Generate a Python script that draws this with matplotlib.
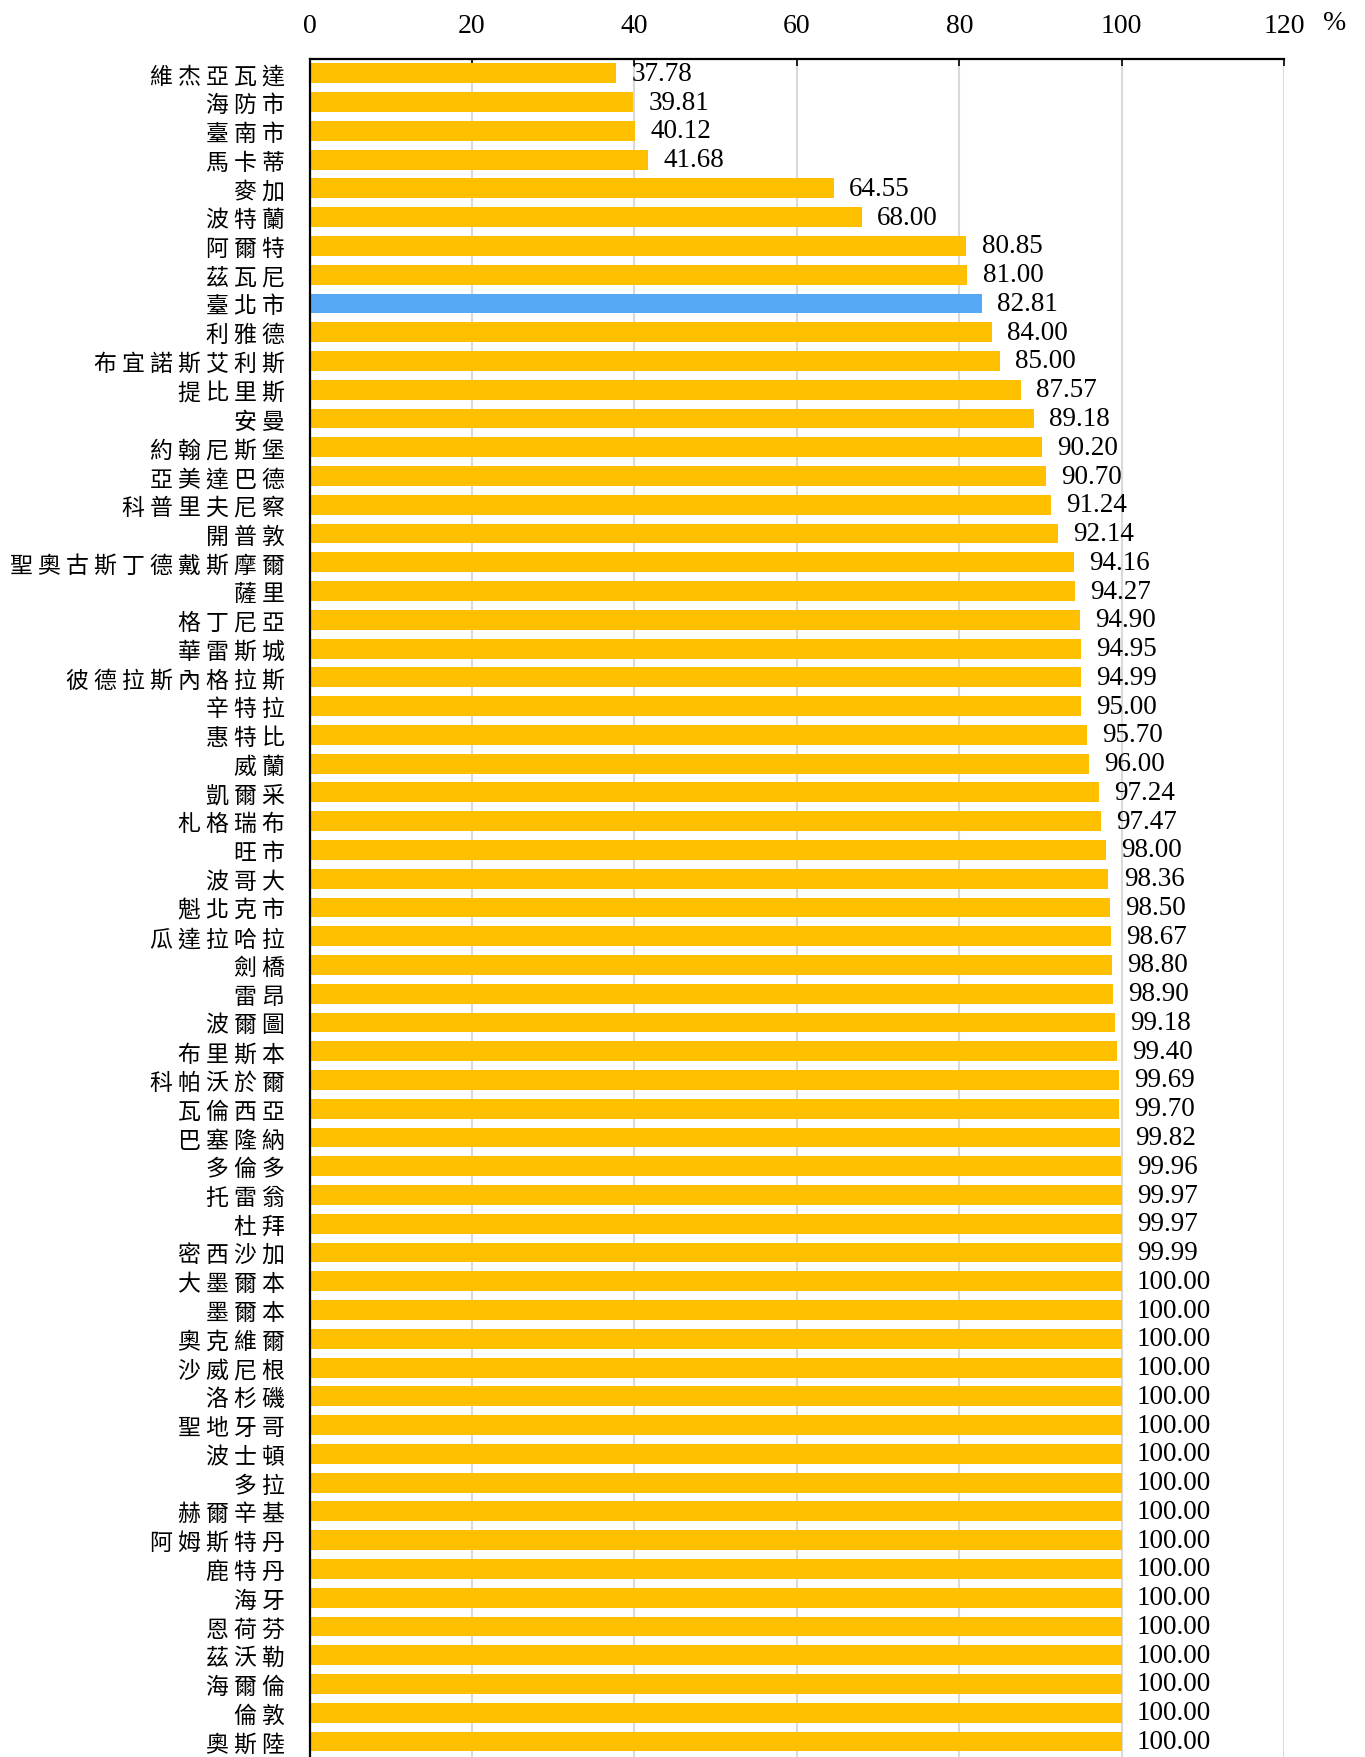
import matplotlib
matplotlib.use("Agg")
import matplotlib.pyplot as plt

cities = [
    "維杰亞瓦達", "海防市", "臺南市", "馬卡蒂", "麥加", "波特蘭", "阿爾特", "茲瓦尼",
    "臺北市", "利雅德", "布宜諾斯艾利斯", "提比里斯", "安曼", "約翰尼斯堡", "亞美達巴德",
    "科普里夫尼察", "開普敦", "聖奧古斯丁德戴斯摩爾", "薩里", "格丁尼亞", "華雷斯城",
    "彼德拉斯內格拉斯", "辛特拉", "惠特比", "威蘭", "凱爾采", "札格瑞布", "旺市", "波哥大",
    "魁北克市", "瓜達拉哈拉", "劍橋", "雷昂", "波爾圖", "布里斯本", "科帕沃於爾", "瓦倫西亞",
    "巴塞隆納", "多倫多", "托雷翁", "杜拜", "密西沙加", "大墨爾本", "墨爾本", "奧克維爾",
    "沙威尼根", "洛杉磯", "聖地牙哥", "波士頓", "多拉", "赫爾辛基", "阿姆斯特丹", "鹿特丹",
    "海牙", "恩荷芬", "茲沃勒", "海爾倫", "倫敦", "奧斯陸",
]
values = [
    37.78, 39.81, 40.12, 41.68, 64.55, 68.00, 80.85, 81.00,
    82.81, 84.00, 85.00, 87.57, 89.18, 90.20, 90.70,
    91.24, 92.14, 94.16, 94.27, 94.90, 94.95,
    94.99, 95.00, 95.70, 96.00, 97.24, 97.47, 98.00, 98.36,
    98.50, 98.67, 98.80, 98.90, 99.18, 99.40, 99.69, 99.70,
    99.82, 99.96, 99.97, 99.97, 99.99, 100.00, 100.00, 100.00,
    100.00, 100.00, 100.00, 100.00, 100.00, 100.00, 100.00, 100.00,
    100.00, 100.00, 100.00, 100.00, 100.00, 100.00,
]
highlight = "臺北市"
x_ticks = [0, 20, 40, 60, 80, 100, 120]
unit_label = "%"

YELLOW = "#FFC000"
BLUE = "#56A9F5"
GRID = "#D9D9D9"
num_font = "Liberation Serif"
cjk_font = ["Noto Sans CJK TC", "DejaVu Sans"]

fig = plt.figure(figsize=(13.65, 17.58), dpi=100)
ax = fig.add_axes([0.2268, 0.0, 0.714, 1 - 60 / 1758])

ypos = list(range(len(cities)))
colors = [BLUE if c == highlight else YELLOW for c in cities]
ax.barh(ypos, values, height=0.69, color=colors, zorder=3)

for y, v in zip(ypos, values):
    ax.annotate(f"{v:.2f}", xy=(v, y), xytext=(11, 0), textcoords="offset points",
                ha="left", va="center", fontsize=19.5, family=num_font, zorder=4)

ax.set_xlim(0, 120)
ax.set_ylim(len(cities) - 1 + 0.54, -0.5)
ax.set_yticks(ypos)
ax.set_yticklabels([" ".join(c) for c in cities], family=cjk_font, fontsize=16.5)
ax.tick_params(axis="y", length=0, pad=18)

ax.xaxis.tick_top()
ax.set_xticks(x_ticks)
ax.set_xticklabels([str(t) for t in x_ticks], family=num_font, fontsize=20)
ax.tick_params(axis="x", direction="in", length=5, width=1.2, pad=15, colors="black")

ax.grid(axis="x", color=GRID, linewidth=1.5, zorder=0)
ax.set_axisbelow(True)
for side in ("right", "bottom"):
    ax.spines[side].set_visible(False)
for side in ("left", "top"):
    ax.spines[side].set_linewidth(1.6)
    ax.spines[side].set_color("black")
    ax.spines[side].set_zorder(5)

fig.text(1335 / 1365, 1 - 24 / 1758, unit_label, family=num_font, fontsize=20,
         ha="center", va="center")

fig.savefig("out.png", dpi=100)
